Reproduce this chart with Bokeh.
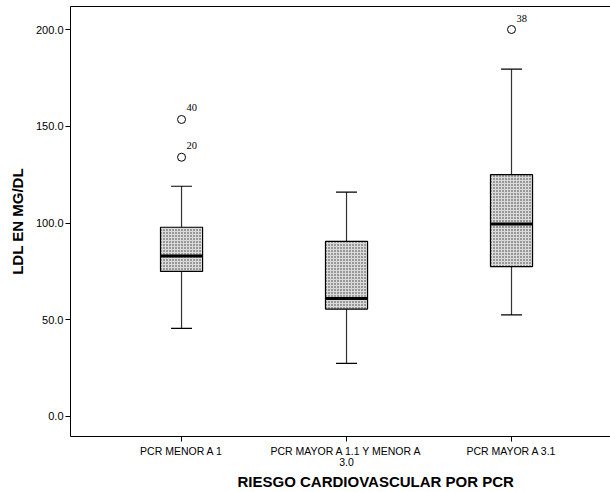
from bokeh.plotting import figure
from bokeh.models import (FixedTicker, PrintfTickFormatter, Range1d, LabelSet, Title,
                          ColumnDataSource, LinearAxis)
from bokeh.embed import file_html
from bokeh.resources import INLINE

categories = ["PCR MENOR A 1", "PCR MAYOR A 1.1 Y MENOR A\n3.0", "PCR MAYOR A 3.1"]
lower = [45.5, 27.5, 52.5]
q1 = [75.0, 55.5, 77.5]
median = [83.0, 61.0, 99.5]
q3 = [97.8, 90.5, 125.0]
upper = [119.0, 116.0, 179.5]
outlier_group = [0, 0, 2]
outlier_values = [134.0, 153.5, 200.0]
outlier_ids = ["20", "40", "38"]
y_ticks = [0, 50, 100, 150, 200]
x_title = "RIESGO CARDIOVASCULAR POR PCR"
y_title = "LDL EN MG/DL"

FONT = "Liberation Sans"
pos = [i + 1 for i in range(len(categories))]
bw = 0.255
cw = 0.127

src = ColumnDataSource(dict(
    x=pos, lower=lower, q1=q1, med=median, q3=q3, upper=upper,
    left=[x - bw / 2 for x in pos], right=[x + bw / 2 for x in pos],
    cl=[x - cw / 2 for x in pos], cr=[x + cw / 2 for x in pos],
))
osrc = ColumnDataSource(dict(
    x=[pos[g] for g in outlier_group], y=outlier_values, t=outlier_ids,
))

p = figure(width=610, height=492, output_backend="svg", toolbar_location=None,
           x_range=Range1d(0.327, 3.6), y_range=Range1d(-10.34, 211.9),
           min_border_left=70, min_border_right=0, min_border_top=6, min_border_bottom=56)
p.background_fill_color = "white"
p.border_fill_color = "white"
p.outline_line_color = None
p.grid.visible = False

xa = p.below[0]
ya = p.left[0]

# top border line (no right border, as in the cropped original)
top_axis = LinearAxis(ticker=FixedTicker(ticks=[]), major_tick_out=0, major_tick_in=0,
                      major_label_standoff=0, minor_tick_line_color=None,
                      major_label_text_font_size="0px",
                      axis_line_color="black", axis_line_width=1)
p.add_layout(top_axis, "above")

# whiskers
p.segment(x0="x", y0="lower", x1="x", y1="q1", source=src, line_color="#333333", line_width=1.2)
p.segment(x0="x", y0="q3", x1="x", y1="upper", source=src, line_color="#333333", line_width=1.2)
p.segment(x0="cl", y0="lower", x1="cr", y1="lower", source=src, line_color="black", line_width=1.2)
p.segment(x0="cl", y0="upper", x1="cr", y1="upper", source=src, line_color="black", line_width=1.2)
# boxes
p.quad(left="left", right="right", bottom="q1", top="q3", source=src,
       fill_color="#dadada", hatch_pattern="dot", hatch_color="#333333",
       hatch_scale=3, hatch_weight=1.3, line_color="black", line_width=1.2)
p.segment(x0="left", y0="med", x1="right", y1="med", source=src, line_color="black", line_width=3)
# outliers
p.scatter(x="x", y="y", source=osrc, marker="circle", size=8, fill_color="white",
          line_color="black", line_width=1)
p.add_layout(LabelSet(x="x", y="y", text="t", source=osrc, x_offset=5, y_offset=8,
                      text_font=FONT, text_font_size="10.5px", text_color="black",
                      text_baseline="bottom", text_align="left"))

# axes
xa.ticker = FixedTicker(ticks=pos)
xa.major_label_overrides = {x: c for x, c in zip(pos, categories)}
ya.ticker = FixedTicker(ticks=y_ticks)
ya.formatter = PrintfTickFormatter(format="%.1f")
for ax in (xa, ya):
    ax.axis_line_color = "black"
    ax.axis_line_width = 1
    ax.major_tick_line_color = "black"
    ax.major_tick_in = 0
    ax.major_tick_out = 5
    ax.minor_tick_line_color = None
    ax.major_label_text_font = FONT
    ax.major_label_text_color = "black"
    ax.axis_label_text_font = FONT
    ax.axis_label_text_font_style = "bold"
    ax.axis_label_text_font_size = "15px"
    ax.axis_label_text_color = "black"
xa.major_label_text_font_size = "10.5px"
xa.major_label_text_line_height = 0.95
xa.major_label_standoff = 3
ya.major_label_text_font_size = "11px"
ya.major_label_standoff = 2
ya.axis_label = y_title
ya.axis_label_standoff = 7

# x-axis title, placed as in the original (to the right of the frame centre)
p.add_layout(Title(text=x_title, align="left", offset=167, standoff=0,
                   text_font=FONT, text_font_style="bold", text_font_size="15px",
                   text_color="black"), "below")

open("out.html", "w").write(file_html(p, INLINE))
